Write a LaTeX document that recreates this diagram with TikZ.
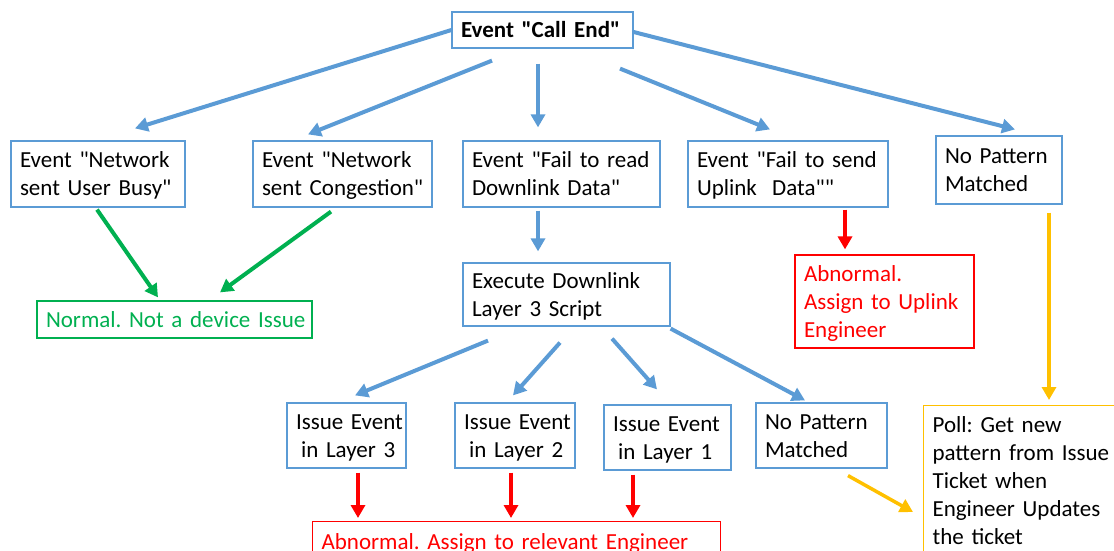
\documentclass[tikz,border=0pt]{standalone}
\usepackage{fontspec}
\setmainfont{Carlito}[Ligatures=TeXOff]
\usetikzlibrary{arrows.meta}
\definecolor{flowblue}{HTML}{5B9BD5}
\definecolor{okgreen}{HTML}{00B050}
\definecolor{badred}{HTML}{FF0000}
\definecolor{pollamber}{HTML}{FFC000}
% a block of fixed lines that never rewraps, set a little low in its box
\newcommand{\boxlines}[1]{\raisebox{-2pt}[\height][\depth]{\begin{tabular}{@{}l@{}}#1\end{tabular}}}
\begin{document}
\begin{tikzpicture}[x=1pt,y=-1pt,
  font=\fontsize{23}{28}\selectfont\frenchspacing,
  box/.style={draw=flowblue, line width=1.2pt, align=left, inner xsep=9pt, inner ysep=2pt},
  okbox/.style={box, draw=okgreen, text=okgreen},
  badbox/.style={box, draw=badred, text=badred},
  pollbox/.style={box, draw=pollamber},
  link/.style={line width=4pt, -{Triangle[length=13pt,width=14pt]}},
  bluearrow/.style={link, draw=flowblue},
  greenarrow/.style={link, draw=okgreen},
  redarrow/.style={link, line width=3.5pt, draw=badred},
  amberarrow/.style={link, line width=3.5pt, draw=pollamber}]
\useasboundingbox (0,0) rectangle (1114,551);

% top event
\node[box, text width=163pt, minimum height=36pt, font=\fontsize{23}{28}\selectfont\frenchspacing\bfseries] (top) at (542.5,30) {\boxlines{Event "Call End"}};

% first level
\node[box, text width=156pt, minimum height=66pt] (b1) at (98,174) {\boxlines{Event "Network\\sent User Busy"}};
\node[box, text width=161pt, minimum height=66pt] (b2) at (342.5,174) {\boxlines{Event "Network\\sent Congestion"}};
\node[box, text width=179pt, minimum height=66pt] (b3) at (561.5,174) {\boxlines{Event "Fail to read\\Downlink Data"}};
\node[box, text width=182pt, minimum height=66pt] (b4) at (788,174) {\boxlines{Event "Fail to send\\Uplink~ Data""}};
\node[box, text width=108pt, minimum height=68pt] (b5) at (999,170) {\boxlines{No Pattern\\Matched}};

% outcomes of the first level
\node[okbox, text width=257pt, minimum height=37pt] (normal) at (174.5,319.5) {\boxlines{Normal. Not a device Issue}};
\node[box, text width=189pt, minimum height=63pt] (exec) at (566.5,294.5) {\boxlines{Execute Downlink\\Layer 3 Script}};
\node[badbox, text width=161pt, minimum height=93pt] (abnup) at (884.5,301.5) {\boxlines{Abnormal.\\Assign to Uplink\\Engineer}};

% layer 3 script results
\node[box, text width=101pt, minimum height=65pt] (l3) at (346.5,435.5) {\boxlines{Issue Event\\\hspace*{5pt}in Layer 3}};
\node[box, text width=102pt, minimum height=65pt] (l2) at (515,435.5) {\boxlines{Issue Event\\\hspace*{5pt}in Layer 2}};
\node[box, text width=109pt, minimum height=65pt] (l1) at (667.5,437.5) {\boxlines{Issue Event\\\hspace*{5pt}in Layer 1}};
\node[box, text width=113pt, minimum height=65pt] (np2) at (821.5,435.5) {\boxlines{No Pattern\\Matched}};

% final states
\node[badbox, anchor=north west, text width=390pt, inner ysep=6pt] (abnrel) at (312,521) {\boxlines{Abnormal. Assign to relevant Engineer\\~}};
\node[pollbox, anchor=north west, text width=185pt, inner ysep=5pt] (poll) at (923,405) {\boxlines{Poll: Get new\\pattern from Issue\\Ticket when\\Engineer Updates\\the ticket}};

% connectors from the top event
\draw[bluearrow] (top.west) -- ([shift={(37,-12)}]b1.north);
\draw[bluearrow] ([shift={(-50.5,12)}]top.south) -- ([shift={(-34.5,-6)}]b2.north);
\draw[bluearrow] ([shift={(-4.5,15)}]top.south) -- ([shift={(-23.5,-13)}]b3.north);
\draw[bluearrow] ([shift={(77.5,20)}]top.south) -- ([shift={(-18,-11)}]b4.north);
\draw[bluearrow] ([shift={(0,2)}]top.east) -- ([shift={(16,-6)}]b5.north);

% connectors from the first level
\draw[bluearrow] ([shift={(-23.5,3)}]b3.south) -- ([shift={(-28.5,-11)}]exec.north);
\draw[greenarrow] ([shift={(-1,2)}]b1.south) -- ([shift={(-16.5,-3)}]normal.north);
\draw[greenarrow] ([shift={(-11.5,4)}]b2.south) -- ([shift={(45.5,-8)}]normal.north);
\draw[redarrow] ([shift={(57,2)}]b4.south) -- ([shift={(-39.5,-5)}]abnup.north);
\draw[amberarrow] ([shift={(50,8)}]b5.south) -- ([shift={(126,-5)}]poll.north west);

% connectors from the script
\draw[bluearrow] ([shift={(-78.5,14)}]exec.south) -- ([shift={(8.5,-7)}]l3.north);
\draw[bluearrow] ([shift={(-6.5,16)}]exec.south) -- ([shift={(-2,-7)}]l2.north);
\draw[bluearrow] ([shift={(45.5,12)}]exec.south) -- ([shift={(-10.5,-15)}]l1.north);
\draw[bluearrow] ([shift={(0,2)}]exec.south east) -- ([shift={(-16.5,-2)}]np2.north);

% connectors to the final states
\draw[redarrow] ([shift={(11.5,4)}]l3.south) -- ([shift={(46,-3)}]abnrel.north west);
\draw[redarrow] ([shift={(-4,4)}]l2.south) -- ([shift={(199,-3)}]abnrel.north west);
\draw[redarrow] ([shift={(-34.5,4)}]l1.south) -- ([shift={(321,-3)}]abnrel.north west);
\draw[amberarrow] ([shift={(26.5,7)}]np2.south) -- ([shift={(-10,107)}]poll.north west);
\end{tikzpicture}
\end{document}
